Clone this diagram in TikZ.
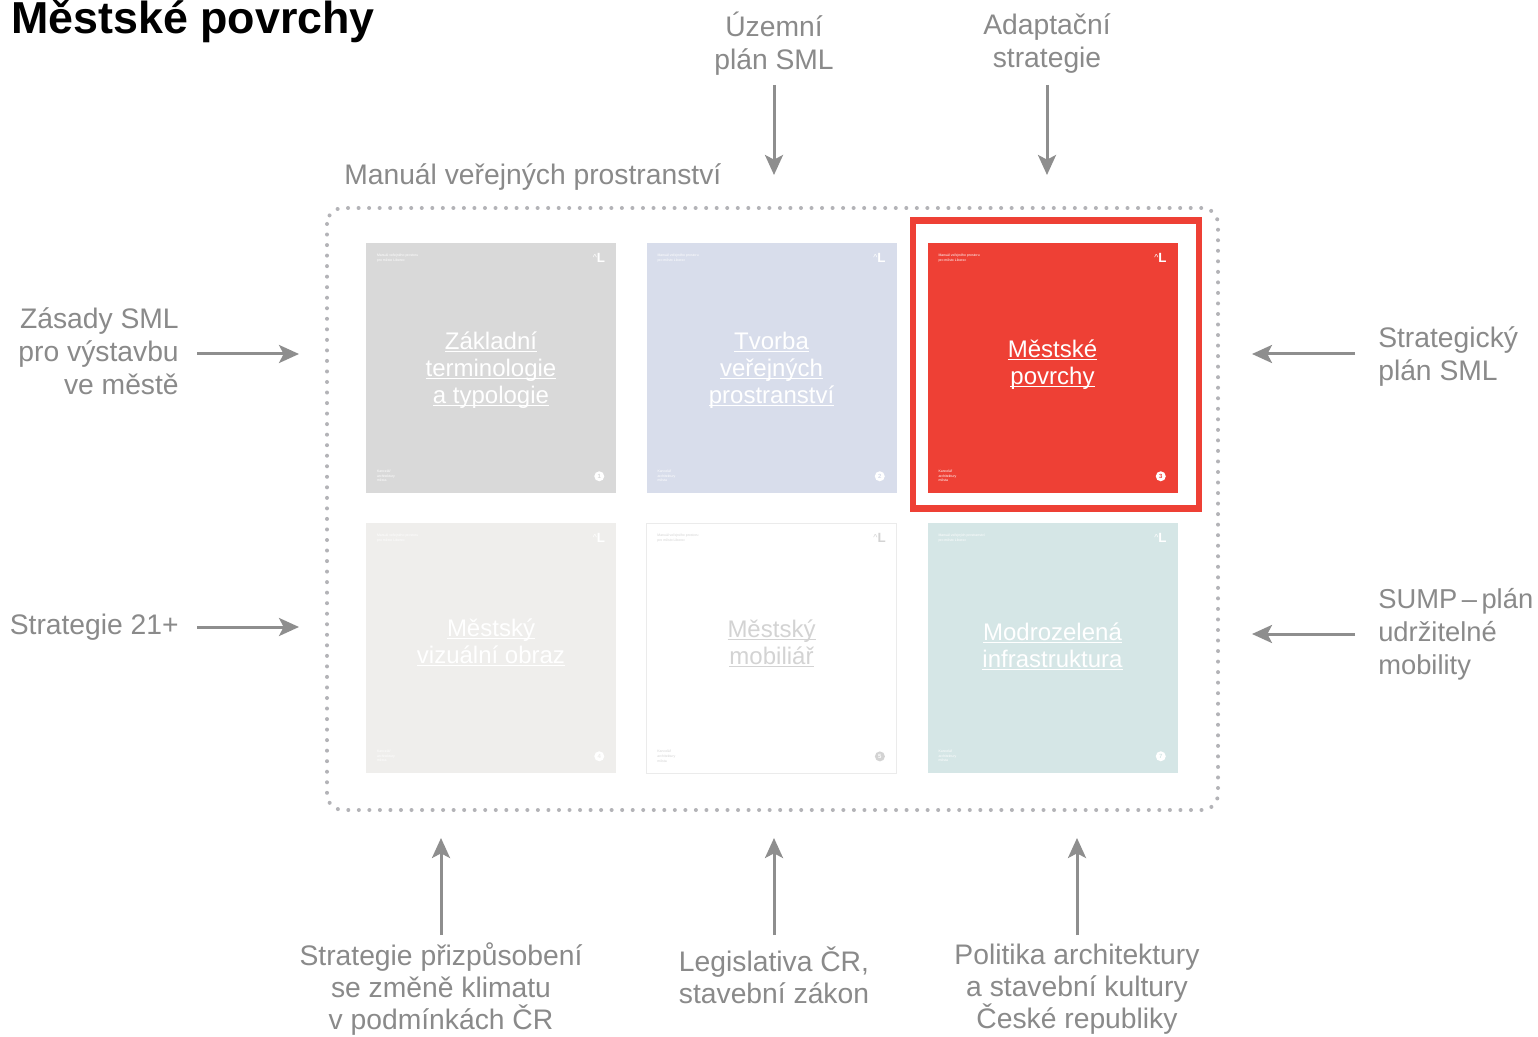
\documentclass[tikz,border=0pt]{standalone}
\usepackage{fontspec}
\setmainfont{Liberation Sans}
\usetikzlibrary{arrows.meta}
\definecolor{labgray}{HTML}{8A8A8A}
\definecolor{arrgray}{HTML}{8E8E8E}
\definecolor{dotgray}{HTML}{B3B3B7}
\definecolor{mred}{HTML}{EE4035}
\definecolor{tone}{HTML}{D9D9D9}
\definecolor{ttwo}{HTML}{D8DDEB}
\definecolor{tfour}{HTML}{EFEEEC}
\definecolor{tfiveb}{HTML}{EBEBEB}
\definecolor{tfivet}{HTML}{D3D3D3}
\definecolor{tsix}{HTML}{D5E6E6}
\newlength\tulw
\newcommand\tul[1]{\settowidth\tulw{#1}\rlap{\rule[-2pt]{\tulw}{0.7pt}}#1}
\tikzset{
  lbl/.style={text=labgray, font=\fontsize{21.2}{24.75}\selectfont, inner sep=0pt},
  botlbl/.style={lbl, align=center, font=\fontsize{21.2}{24}\selectfont},
  arr/.style={draw=arrgray, line width=2.25pt, -{Stealth[length=15pt,width=13.5pt,inset=3.5pt]}},
  tilebox/.style={minimum width=187.5pt, minimum height=187.5pt, inner sep=0pt, draw=none},
  tiletitle/.style={inner sep=0pt, align=center, font=\fontsize{18}{20.25}\selectfont},
  tinytext/.style={inner sep=0pt, align=left, font=\fontsize{2.6}{3.6}\selectfont},
  logo/.style={inner sep=0pt, font=\fontsize{10}{10}\selectfont},
  numdot/.style={circle, inner sep=0pt, minimum size=7.5pt},
  numtext/.style={inner sep=0pt, font=\fontsize{4.5}{5}\selectfont\bfseries},
}
\begin{document}
\begin{tikzpicture}[x=0.75pt, y=-0.75pt]
\useasboundingbox (0,0) rectangle (1538,1037);
\fill[white] (0,0) rectangle (1538,1037);

% title
\node[inner sep=0pt, anchor=base west, font=\fontsize{33.6}{38}\selectfont\bfseries] (title) at (11,34) {Městské povrchy};

% dotted frame
\draw[dotgray, line width=3pt, line cap=round, dash pattern=on 0pt off 7.9pt, rounded corners=12pt] (327,208) rectangle (1218,810);
\node[lbl, anchor=west] (manual) at (344,177) {Manuál veřejných prostranství};

% tiles
\node[tilebox, fill=tone] (t1) at (491,368) {};
\node[tilebox, fill=ttwo] (t2) at (771.5,368) {};
\node[tilebox, fill=mred] (t3) at (1052.5,368) {};
\node[tilebox, fill=tfour] (t4) at (491,648) {};
\node[tilebox, fill=white, draw=tfiveb, line width=0.6pt] (t5) at (771.5,648) {};
\node[tilebox, fill=tsix] (t6) at (1052.5,648) {};

% red frame
\draw[mred, line width=4.9pt] (913,220.5) rectangle (1199,508.5);

% tile titles
\node[tiletitle, text=white] (t1t) at ([yshift=-1.5pt]t1.center) {\tul{Základní}\\\tul{terminologie}\\\tul{a typologie}};
\node[tiletitle, text=white] (t2t) at ([yshift=-1.5pt]t2.center) {\tul{Tvorba}\\\tul{veřejných}\\\tul{prostranství}};
\node[tiletitle, text=white] (t3t) at ([yshift=2.4pt]t3.center) {\tul{Městské}\\\tul{povrchy}};
\node[tiletitle, text=white] (t4t) at ([yshift=4pt]t4.center) {\tul{Městský}\\\tul{vizuální obraz}};
\node[tiletitle, text=tfivet] (t5t) at ([yshift=3.3pt]t5.center) {\tul{Městský}\\\tul{mobiliář}};
\node[tiletitle, text=white] (t6t) at ([yshift=1.3pt]t6.center) {\tul{Modrozelená}\\\tul{infrastruktura}};

% tile small texts
\foreach \t/\c/\top in {t1/white/{Manuál veřejného prostoru\\pro město Liberec},
                     t2/white/{Manuál veřejného prostoru\\pro město Liberec},
                     t3/white/{Manuál veřejného prostoru\\pro město Liberec},
                     t4/white/{Manuál veřejného prostoru\\pro město Liberec},
                     t5/tfivet/{Manuál veřejného prostoru\\pro město Liberec},
                     t6/white/{Manuál veřejných prostranství\\pro město Liberec}}{
  \node[tinytext, text=\c, anchor=north west] (\t top) at ([shift={(11,11)}]\t.north west) {\top};
  \node[tinytext, text=\c, anchor=south west] (\t bot) at ([shift={(11,-11)}]\t.south west) {Kancelář\\architektury\\města};
  \node[logo, text=\c, anchor=north east] (\t logo) at ([shift={(-11,10)}]\t.north east) {\raisebox{1pt}{\fontsize{6.5}{6.5}\selectfont\^{}}\textbf{L}};
  \node[numdot, fill=\c] (\t num) at ([shift={(-17,-17)}]\t.south east) {};
}
\node[numtext, text=tone] at (t1num) {1};
\node[numtext, text=ttwo] at (t2num) {2};
\node[numtext, text=mred] at (t3num) {3};
\node[numtext, text=tfour] at (t4num) {4};
\node[numtext, text=white] at (t5num) {5};
\node[numtext, text=tsix] at (t6num) {7};

% labels
\node[lbl, align=center] (uzemni) at (774,43.5) {Územní\\plán SML};
\node[lbl, align=center] (adapt) at (1047,43.5) {Adaptační\\strategie};
\node[lbl, align=right, anchor=east] (zasady) at (179,351) {Zásady SML\\pro výstavbu\\ve městě};
\node[lbl, align=right, anchor=east] (s21) at (179,627) {Strategie 21+};
\node[lbl, align=left, anchor=west] (strplan) at (1378,357) {Strategický\\plán SML};
\node[lbl, align=left, anchor=west, font=\fontsize{20.5}{24.75}\selectfont] (sump) at (1378,634) {SUMP\,–\,plán\\udržitelné\\mobility};
\node[botlbl] (klima) at (441,989) {Strategie přizpůsobení\\se změně klimatu\\v podmínkách ČR};
\node[botlbl] (legis) at (774,975) {Legislativa ČR,\\stavební zákon};
\node[botlbl] (polit) at (1077,989) {Politika architektury\\a stavební kultury\\České republiky};

% arrow ends
\coordinate (a1s) at (774,85);  \coordinate (a1e) at (774,175);
\coordinate (a2s) at (1047,85); \coordinate (a2e) at (1047,175);
\coordinate (a3s) at (197,354); \coordinate (a3e) at (299,354);
\coordinate (a4s) at (197,627); \coordinate (a4e) at (299,627);
\coordinate (a5s) at (1355,354); \coordinate (a5e) at (1252,354);
\coordinate (a6s) at (1355,634); \coordinate (a6e) at (1252,634);
\coordinate (a7s) at (441,935); \coordinate (a7e) at (441,838);
\coordinate (a8s) at (774,935); \coordinate (a8e) at (774,838);
\coordinate (a9s) at (1077,935); \coordinate (a9e) at (1077,838);
\foreach \i in {1,...,9}{\draw[arr] (a\i s) -- (a\i e);}
\end{tikzpicture}
\end{document}
